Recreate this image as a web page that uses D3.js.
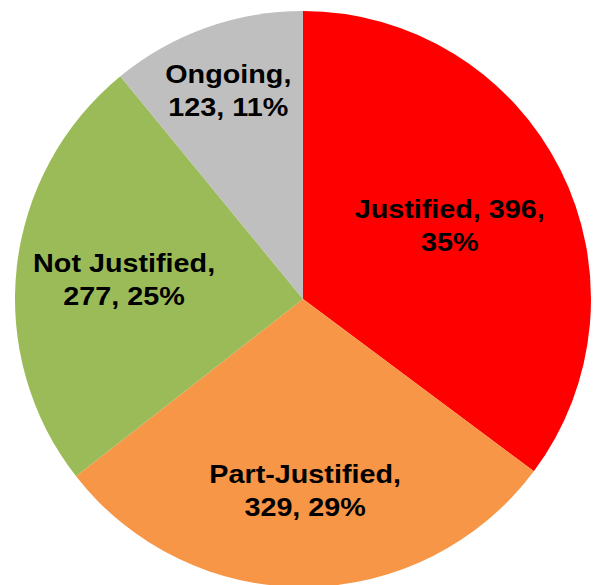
<!DOCTYPE html>
<html>
<head>
<meta charset="utf-8">
<script src="https://cdn.jsdelivr.net/npm/d3@7"></script>
<style>
  html, body { margin: 0; padding: 0; background: #ffffff; }
  svg { display: block; }
</style>
</head>
<body>
<svg id="chart"></svg>
<script>
// data, in clockwise order from 12 o'clock
const categories = ['Justified', 'Part-Justified', 'Not Justified', 'Ongoing'];
const counts = [396, 329, 277, 123];
const percents = ['35%', '29%', '25%', '11%'];
const labelLines = [
  ['Justified, 396,', '35%'],
  ['Part-Justified,', '329, 29%'],
  ['Not Justified,', '277, 25%'],
  ['Ongoing,', '123, 11%']
];

const colors = ['#ff0000', '#f79646', '#9bbb59', '#bfbfbf'];
const labelRadius = [0.57, 0.664, 0.625, 0.77]; // fraction of r, Excel best-fit placement

const width = 598, height = 585;
const cx = 303, cy = 299, r = 288;

const svg = d3.select('#chart')
  .attr('width', width)
  .attr('height', height)
  .attr('viewBox', [0, 0, width, height]);

const datum = categories.map((c, i) => ({ name: c, value: counts[i], pct: percents[i], lines: labelLines[i], idx: i }));

const pie = d3.pie()
  .value(d => d.value)
  .sort(null)
  .startAngle(0)
  .endAngle(2 * Math.PI);

const arcs = pie(datum);
const arc = d3.arc().innerRadius(0).outerRadius(r);

const g = svg.append('g')
  .attr('transform', `translate(${cx},${cy})`);

g.selectAll('path')
  .data(arcs)
  .enter().append('path')
  .attr('d', arc)
  .style('fill', d => colors[d.data.idx])
  .style('stroke', 'none');

const lineGap = 33;
const fontSize = 25;
const capH = fontSize * 0.72;

const labels = g.selectAll('g.label')
  .data(arcs)
  .enter().append('g')
  .attr('class', 'label')
  .attr('transform', d => {
    const a = (d.startAngle + d.endAngle) / 2;
    const lr = r * labelRadius[d.data.idx];
    return `translate(${Math.sin(a) * lr},${-Math.cos(a) * lr}) scale(1.15,1)`;
  });

labels.selectAll('text')
  .data(d => d.data.lines.map((t, j) => ({ t, j, n: d.data.lines.length })))
  .enter().append('text')
  .attr('x', 0)
  .attr('y', d => -((d.n - 1) * lineGap) / 2 + capH / 2 + d.j * lineGap)
  .style('text-anchor', 'middle')
  .style('font-family', 'Liberation Sans, Arial, sans-serif')
  .style('font-weight', 'bold')
  .style('font-size', fontSize + 'px')
  .style('fill', '#000000')
  .text(d => d.t);
</script>
</body>
</html>
